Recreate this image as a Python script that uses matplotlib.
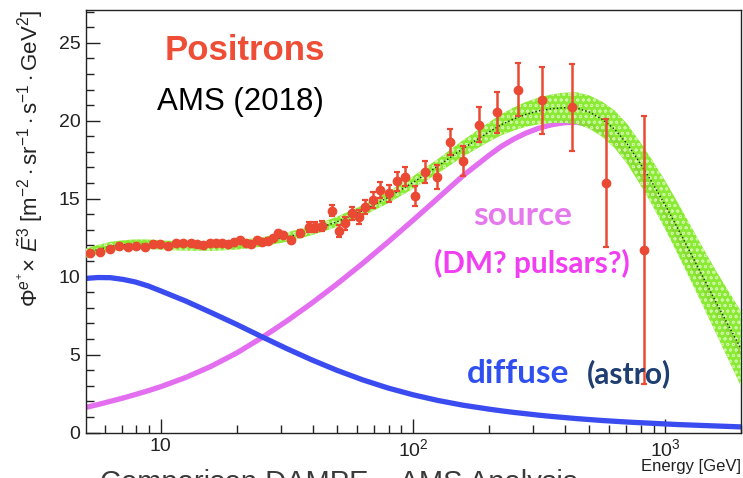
import numpy as np
import matplotlib
matplotlib.use("Agg")
import matplotlib.pyplot as plt
from matplotlib.ticker import FixedLocator, NullFormatter, MultipleLocator

plt.rcParams['font.family'] = ['Liberation Sans', 'DejaVu Sans']
plt.rcParams['mathtext.fontset'] = 'custom'
plt.rcParams['mathtext.rm'] = 'Liberation Sans'
plt.rcParams['mathtext.it'] = 'Liberation Sans:italic'
plt.rcParams['mathtext.bf'] = 'Liberation Sans:bold'
plt.rcParams['hatch.linewidth'] = 0.6

# AMS positron flux (E^3 weighted)
energy = [5.22, 5.75, 6.27, 6.80, 7.41, 8.00, 8.68, 9.31, 9.95, 10.68, 11.45,
          12.25, 13.13, 13.95, 14.71, 15.63, 16.61, 17.54, 18.48, 19.45, 20.54,
          21.71, 22.87, 24.15, 25.29, 26.63, 27.87, 29.18, 30.55, 32.7, 35.8,
          38.6, 41.0, 43.6, 47.8, 50.8, 53.9, 57.4, 60.9, 64.8, 69.5, 74.3,
          80.2, 86.5, 93.3, 102.3, 112.1, 124.0, 140.0, 158.2, 182.4, 215.0,
          261.0, 324.0, 425.6, 584.6, 824.0]
flux = [11.49, 11.59, 11.74, 11.97, 11.91, 11.97, 11.91, 12.06, 12.08, 11.97,
        12.13, 12.17, 12.13, 12.06, 12.02, 12.13, 12.17, 12.17, 12.08, 12.23,
        12.34, 12.17, 12.06, 12.34, 12.23, 12.29, 12.45, 12.77, 12.66, 12.34,
        12.77, 13.19, 13.19, 13.24, 14.22, 12.94, 13.41, 14.05, 13.83, 14.47,
        14.90, 15.54, 15.33, 16.12, 16.40, 15.16, 16.72, 16.40, 18.64, 17.42,
        19.75, 20.53, 22.00, 21.31, 20.85, 16.01, 11.70]
flux_err = [0.10, 0.10, 0.10, 0.10, 0.10, 0.10, 0.10, 0.10, 0.10, 0.11, 0.11,
            0.11, 0.11, 0.12, 0.12, 0.12, 0.12, 0.13, 0.13, 0.13, 0.14, 0.14,
            0.14, 0.15, 0.15, 0.16, 0.16, 0.17, 0.18, 0.20, 0.22, 0.30, 0.30,
            0.32, 0.36, 0.38, 0.40, 0.42, 0.43, 0.47, 0.50, 0.53, 0.56, 0.60,
            0.60, 0.64, 0.70, 0.75, 0.82, 0.94, 1.12, 1.33, 1.71, 2.14, 2.80,
            4.10, 8.60]

# model components: diffuse background, extra source and their sum
model_energy = [5.01, 5.62, 6.31, 7.08, 7.94, 8.91, 10.0, 12.6, 15.8, 20.0,
                25.1, 31.6, 39.8, 50.1, 63.1, 79.4, 100, 126, 158, 200, 224,
                251, 282, 316, 355, 398, 447, 501, 562, 631, 708, 794, 891,
                1000, 1122, 1259, 1413, 1585, 1778, 1995]
source = [1.6, 1.79, 2.0, 2.21, 2.44, 2.68, 2.94, 3.54, 4.24, 5.1, 6.07, 7.15,
          8.31, 9.54, 10.84, 12.2, 13.61, 15.05, 16.47, 17.77, 18.35, 18.82,
          19.22, 19.52, 19.74, 19.87, 19.91, 19.72, 19.33, 18.73, 17.83, 16.67,
          15.41, 14.05, 12.59, 11.07, 9.53, 8.0, 6.51, 5.04]
diffuse = [9.88, 9.94, 9.93, 9.82, 9.65, 9.4, 9.08, 8.42, 7.7, 6.93, 6.15, 5.38,
           4.65, 3.98, 3.38, 2.86, 2.42, 2.05, 1.75, 1.5, 1.39, 1.29, 1.2, 1.11,
           1.03, 0.96, 0.89, 0.83, 0.77, 0.72, 0.67, 0.63, 0.59, 0.55, 0.51,
           0.48, 0.45, 0.42, 0.39, 0.36]
total = [11.48, 11.73, 11.93, 12.03, 12.09, 12.08, 12.02, 11.96, 11.94, 12.03,
         12.22, 12.53, 12.96, 13.52, 14.22, 15.06, 16.03, 17.1, 18.22, 19.27,
         19.74, 20.11, 20.42, 20.63, 20.77, 20.83, 20.8, 20.55, 20.1, 19.45,
         18.5, 17.3, 16.0, 14.6, 13.1, 11.55, 9.98, 8.42, 6.9, 5.4]
total_err = [0.3, 0.3, 0.3, 0.3, 0.3, 0.3, 0.3, 0.3, 0.3, 0.3, 0.3, 0.3, 0.3,
             0.33, 0.35, 0.37, 0.4, 0.46, 0.53, 0.62, 0.68, 0.74, 0.8, 0.86,
             0.92, 0.97, 1.02, 1.07, 1.13, 1.2, 1.28, 1.36, 1.45, 1.55, 1.65,
             1.75, 1.87, 2.0, 2.2, 2.4]

x_ticks = [10, 100, 1000]
x_tick_labels = ['10', r'$10^{2}$', r'$10^{3}$']
y_ticks = [0, 5, 10, 15, 20, 25]

W, H = 743, 478
fig = plt.figure(figsize=(W / 100, H / 100), dpi=100)
L, R, T, B = 86, 741, 10, 432.5
ax = fig.add_axes([L / W, 1 - B / H, (R - L) / W, (B - T) / H])

red = '#ea4a33'
ax.plot(model_energy, source, color='#e46ef0', lw=3.8, solid_capstyle='round',
        solid_joinstyle='round', zorder=2)
ax.plot(model_energy, diffuse, color='#3a4cf0', lw=3.8, solid_capstyle='round',
        solid_joinstyle='round', zorder=2)

lo = np.array(total) - np.array(total_err)
hi = np.array(total) + np.array(total_err)
ax.fill_between(model_energy, lo, hi, facecolor='#7ee81e', edgecolor='#d4f8b0',
                hatch='ooo', lw=0, alpha=0.9, zorder=3)
ax.plot(model_energy, total, color='#1a2a10', lw=1.0, ls=(0, (1, 1.6)), zorder=4)

ax.errorbar(energy, flux, yerr=flux_err, fmt='o', color=red, ms=6.0,
            elinewidth=1.8, capsize=2.5, capthick=1.6, zorder=5)

ax.set_xscale('log')
ax.set_xlim(5.05, 2000)
ax.set_ylim(0, 27.1)
ax.xaxis.set_major_locator(FixedLocator(x_ticks))
ax.set_xticklabels(x_tick_labels)
ax.xaxis.set_minor_formatter(NullFormatter())
ax.yaxis.set_major_locator(FixedLocator(y_ticks))
ax.yaxis.set_minor_locator(MultipleLocator(1))
ax.tick_params(which='both', direction='in', top=False, right=False, width=1.0,
               labelsize=14, colors='#222222')
ax.tick_params(which='major', length=10)
ax.tick_params(which='minor', length=5.5)
ax.tick_params(axis='x', pad=4)
ax.tick_params(axis='y', pad=4)
for s in ax.spines.values():
    s.set_linewidth(1.0)
    s.set_color('#222222')


def put(px, py, s, **kw):
    fig.text(px / W, 1 - py / H, s, va='baseline', **kw)


put(165, 60, 'Positrons', fontsize=25, fontweight='bold', color='#ee4d36')
put(157, 110, 'AMS (2018)', fontsize=22.5, color='black')
put(473, 225, 'source', fontsize=24, fontweight='bold', color='#e578ee', family='Lato')
put(434, 273, '(DM? pulsars?)', fontsize=21.5, fontweight='bold', color='#f23ef2', family='Lato')
put(467, 383, 'diffuse', fontsize=24, fontweight='bold', color='#2f4ff0', family='Lato')
put(587, 383, '(astro)', fontsize=21.5, fontweight='bold', color='#1f3f70', family='Lato')
put(741, 471, 'Energy [GeV]', fontsize=12, ha='right', color='#222222')
put(100, 491, 'Comparison DAMPE \u2013 AMS Analysis', fontsize=21, color='#3a3a3a')

ylab = (r'$\Phi^{e^{+}}\!\times\,\tilde{E}^{3}\ [\mathrm{m}^{-2}\cdot\mathrm{sr}^{-1}'
        r'\cdot\mathrm{s}^{-1}\cdot\mathrm{GeV}^{2}]$')
fig.text(30 / W, 1 - 10 / H, ylab, rotation=90, ha='center', va='top', fontsize=16,
         color='#222222')

fig.savefig('out.png', dpi=100, facecolor='white')
